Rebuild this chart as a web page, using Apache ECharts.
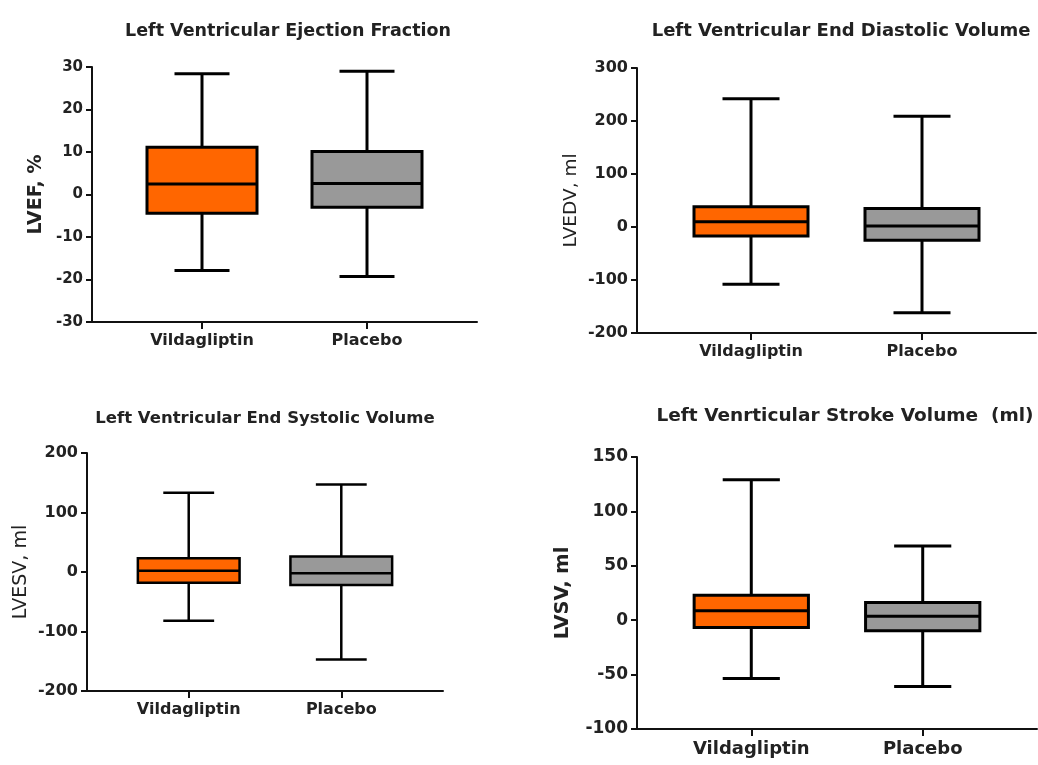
<!DOCTYPE html>
<html>
<head>
<meta charset="utf-8">
<script src="https://cdn.jsdelivr.net/npm/echarts@6/dist/echarts.min.js"></script>
<style>
html,body{margin:0;padding:0;background:#fff;}
#chart{width:1038px;height:765px;}
</style>
</head>
<body>
<div id="chart"></div>
<script>
// ---- data ----
const categories = ['Vildagliptin', 'Placebo'];
// each box: [min, Q1, median, Q3, max]
const lvefVild = [-17.9, -4.4, 2.5, 11.1, 28.4];
const lvefPlac = [-19.3, -3.0, 2.6, 10.1, 29.0];
const lvedvVild = [-108, -17, 10, 38, 242];
const lvedvPlac = [-162, -25, 2, 35, 209];
const lvesvVild = [-82, -18, 2, 23, 133];
const lvesvPlac = [-147, -22, -2, 26, 147];
const lvsvVild = [-53.5, -6.7, 8.6, 23, 129];
const lvsvPlac = [-61, -9.7, 3.7, 16.3, 68.3];

const titles = [
  'Left Ventricular Ejection Fraction',
  'Left Ventricular End Diastolic Volume',
  'Left Ventricular End Systolic Volume',
  'Left Venrticular Stroke Volume  (ml)'
];
const yNames = ['LVEF, %', 'LVEDV, ml', 'LVESV, ml', 'LVSV, ml'];
const yMin = [-30, -200, -200, -100];
const yMax = [30, 300, 200, 150];
const yInterval = [10, 100, 100, 50];

// ---- layout ----
const FILLS = ['#FF6600', '#999999'];
const X_MAX = 7;
const catPos = categories.map((c, i) => 2 + 3 * i);
const BOX_W = 2, CAP_W = 1;
const FONT = '"DejaVu Sans", sans-serif';
const TXT = '#222';

const panels = [
  {data: [lvefVild, lvefPlac], grid: {left: 92, top: 67, width: 385, height: 255},
   title: {x: 283, y: 17, size: 17.5, weight: 'bold'}, tick: 15, cat: 16, yname: {size: 19, weight: 'bold', gap: 46}, lw: 3},
  {data: [lvedvVild, lvedvPlac], grid: {left: 637, top: 68, width: 399, height: 265},
   title: {x: 836, y: 17, size: 18, weight: 'bold'}, tick: 16, cat: 16, yname: {size: 18.5, weight: 'normal', gap: 56}, lw: 3},
  {data: [lvesvVild, lvesvPlac], grid: {left: 87, top: 453, width: 356, height: 238},
   title: {x: 260, y: 405, size: 16.5, weight: 'bold'}, tick: 16, cat: 16, yname: {size: 19, weight: 'normal', gap: 56}, lw: 2.5},
  {data: [lvsvVild, lvsvPlac], grid: {left: 637, top: 457, width: 400, height: 272},
   title: {x: 840, y: 402, size: 18.5, weight: 'bold'}, tick: 17, cat: 18, yname: {size: 19.5, weight: 'bold', gap: 64}, lw: 3}
];

function makeRender(lw) {
  return function (params, api) {
    const x = api.value(0);
    const lo = api.coord([x, api.value(1)]);
    const q1 = api.coord([x, api.value(2)]);
    const md = api.coord([x, api.value(3)]);
    const q3 = api.coord([x, api.value(4)]);
    const hi = api.coord([x, api.value(5)]);
    const bw = api.size([BOX_W, 0])[0];
    const cw = api.size([CAP_W, 0])[0];
    const cx = lo[0];
    const ls = {stroke: '#000', lineWidth: lw, fill: null};
    const line = (x1, y1, x2, y2) => ({type: 'line', shape: {x1, y1, x2, y2}, style: ls});
    return {
      type: 'group',
      children: [
        line(cx, hi[1], cx, q3[1]),
        line(cx, q1[1], cx, lo[1]),
        line(cx - cw / 2, hi[1], cx + cw / 2, hi[1]),
        line(cx - cw / 2, lo[1], cx + cw / 2, lo[1]),
        {type: 'rect', shape: {x: cx - bw / 2, y: q3[1], width: bw, height: q1[1] - q3[1]},
         style: {fill: FILLS[params.dataIndex], stroke: '#000', lineWidth: lw}},
        line(cx - bw / 2, md[1], cx + bw / 2, md[1])
      ]
    };
  };
}

const option = {
  backgroundColor: '#fff',
  animation: false,
  title: panels.map((p, i) => ({
    text: titles[i], left: p.title.x, top: p.title.y, textAlign: 'center',
    textStyle: {fontFamily: FONT, fontSize: p.title.size, fontWeight: p.title.weight, color: TXT}
  })),
  grid: panels.map(p => Object.assign({containLabel: false}, p.grid)),
  xAxis: panels.map((p, i) => ({
    type: 'value', gridIndex: i, min: 0, max: X_MAX,
    splitLine: {show: false},
    axisLine: {show: true, onZero: false, lineStyle: {color: '#111', width: 2}},
    axisTick: {show: true, customValues: catPos, length: 7, lineStyle: {color: '#111', width: 2}},
    axisLabel: {show: true, customValues: catPos, margin: 11,
      formatter: v => categories[catPos.indexOf(Math.round(v))] || '',
      fontFamily: FONT, fontSize: p.cat, fontWeight: 'bold', color: TXT}
  })),
  yAxis: panels.map((p, i) => ({
    type: 'value', gridIndex: i, min: yMin[i], max: yMax[i], interval: yInterval[i],
    name: yNames[i], nameLocation: 'middle', nameRotate: 90, nameGap: p.yname.gap,
    nameTextStyle: {fontFamily: FONT, fontSize: p.yname.size, fontWeight: p.yname.weight, color: TXT},
    splitLine: {show: false},
    axisLine: {show: true, onZero: false, lineStyle: {color: '#111', width: 2}},
    axisTick: {show: true, length: 6, lineStyle: {color: '#111', width: 2}},
    axisLabel: {margin: 9, fontFamily: FONT, fontSize: p.tick, fontWeight: 'bold', color: TXT}
  })),
  series: panels.map((p, i) => ({
    type: 'custom', xAxisIndex: i, yAxisIndex: i,
    renderItem: makeRender(p.lw),
    encode: {x: 0, y: [1, 2, 3, 4, 5]},
    data: p.data.map((d, j) => [catPos[j]].concat(d))
  }))
};

const chart = echarts.init(document.getElementById('chart'), null, {renderer: 'canvas'});
chart.setOption(option);
</script>
</body>
</html>
